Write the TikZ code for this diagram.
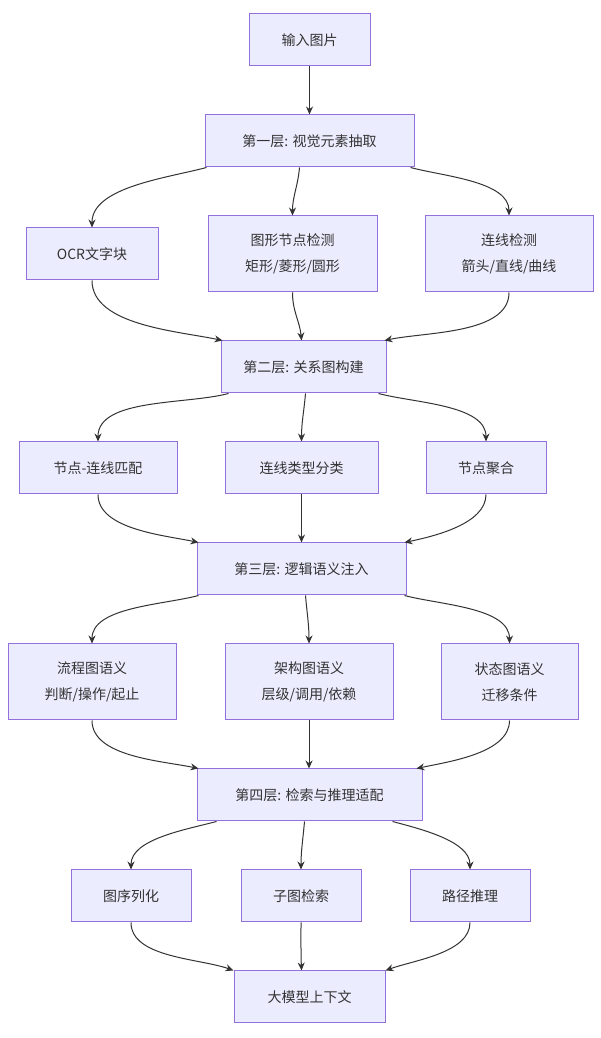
\documentclass[tikz,border=0pt]{standalone}
\usepackage{fontspec}
\setmainfont{Noto Sans CJK SC}
\usetikzlibrary{arrows.meta}
\definecolor{nf}{HTML}{ECECFF}
\definecolor{ns}{HTML}{9370DB}
\definecolor{tx}{HTML}{333333}
\begin{document}
\begin{tikzpicture}[x=1pt,y=1pt,
 n/.style={draw=ns,fill=nf,line width=1pt,text=tx,align=center,inner sep=0pt,font=\fontsize{14}{26}\selectfont},
 e/.style={draw=tx,line width=1pt,-{Stealth[length=8pt,width=7pt]}}]
\useasboundingbox[fill=white] (0,0) rectangle (601,1038);
\node[n,minimum width=121,minimum height=52] (in) at (309.5,998) {输入图片};
\node[n,minimum width=209,minimum height=52] (L1) at (309.5,897) {第一层: 视觉元素抽取};
\node[n,minimum width=132,minimum height=52] (ocr) at (92,784) {OCR文字块};
\node[n,minimum width=169,minimum height=76] (shp) at (292.5,784) {图形节点检测\\矩形/菱形/圆形};
\node[n,minimum width=168,minimum height=76] (lin) at (509,784) {连线检测\\箭头/直线/曲线};
\node[n,minimum width=165,minimum height=52] (L2) at (303.5,671) {第二层: 关系图构建};
\node[n,minimum width=158,minimum height=52] (m1) at (98,570) {节点-连线匹配};
\node[n,minimum width=153,minimum height=52] (m2) at (301.5,570) {连线类型分类};
\node[n,minimum width=120,minimum height=52] (m3) at (486,570) {节点聚合};
\node[n,minimum width=209,minimum height=52] (L3) at (301.5,469) {第三层: 逻辑语义注入};
\node[n,minimum width=168,minimum height=76] (s1) at (92,356) {流程图语义\\判断/操作/起止};
\node[n,minimum width=168,minimum height=76] (s2) at (309,356) {架构图语义\\层级/调用/依赖};
\node[n,minimum width=137,minimum height=76] (s3) at (509.5,356) {状态图语义\\迁移条件};
\node[n,minimum width=225,minimum height=52] (L4) at (309.5,243) {第四层: 检索与推理适配};
\node[n,minimum width=120,minimum height=52] (r1) at (131,142) {图序列化};
\node[n,minimum width=120,minimum height=52] (r2) at (301,142) {子图检索};
\node[n,minimum width=120,minimum height=52] (r3) at (470,142) {路径推理};
\node[n,minimum width=151,minimum height=52] (out) at (309.5,41) {大模型上下文};
\draw[e] (in) -- (L1);
% layer 1
\draw[e] ([xshift=2]L1.south west) to[out=-165,in=90,looseness=0.8] (ocr.north);
\draw[e] ([xshift=-10]L1.south) to[out=-95,in=90] (shp.north);
\draw[e] ([xshift=-4]L1.south east) to[out=-15,in=90,looseness=0.8] (lin.north);
\draw[e] (ocr.south) to[out=-90,in=168,looseness=0.8] ([xshift=2]L2.north west);
\draw[e] (shp.south) to[out=-90,in=95] ([xshift=-2]L2.north);
\draw[e] (lin.south) to[out=-90,in=12,looseness=0.8] ([xshift=-2]L2.north east);
% layer 2
\draw[e] ([xshift=8]L2.south west) to[out=-165,in=90,looseness=0.8] (m1.north);
\draw[e] ([xshift=2]L2.south) to[out=-95,in=90] (m2.north);
\draw[e] ([xshift=-8]L2.south east) to[out=-15,in=90,looseness=0.8] (m3.north);
\draw[e] (m1.south) to[out=-90,in=168,looseness=0.8] ([xshift=2]L3.north west);
\draw[e] (m2) -- (L3);
\draw[e] (m3.south) to[out=-90,in=12,looseness=0.8] ([xshift=-2]L3.north east);
% layer 3
\draw[e] ([xshift=2]L3.south west) to[out=-165,in=90,looseness=0.8] (s1.north);
\draw[e] ([xshift=4]L3.south) to[out=-85,in=90] (s2.north);
\draw[e] ([xshift=-2]L3.south east) to[out=-15,in=90,looseness=0.8] (s3.north);
\draw[e] (s1.south) to[out=-90,in=168,looseness=0.8] ([xshift=2]L4.north west);
\draw[e] (s2.south) -- (s2.south |- L4.north);
\draw[e] (s3.south) to[out=-90,in=12,looseness=0.8] ([xshift=-6]L4.north east);
% layer 4
\draw[e] ([xshift=20]L4.south west) to[out=-165,in=90,looseness=0.8] (r1.north);
\draw[e] ([xshift=-5]L4.south) to[out=-95,in=90] (r2.north);
\draw[e] ([xshift=-30]L4.south east) to[out=-15,in=90,looseness=0.8] (r3.north);
\draw[e] (r1.south) to[out=-90,in=160,looseness=0.8] ([xshift=0]out.north west);
\draw[e] (r2.south) to[out=-90,in=92] ([xshift=-8]out.north);
\draw[e] (r3.south) to[out=-90,in=20,looseness=0.8] ([xshift=0]out.north east);
\end{tikzpicture}
\end{document}
